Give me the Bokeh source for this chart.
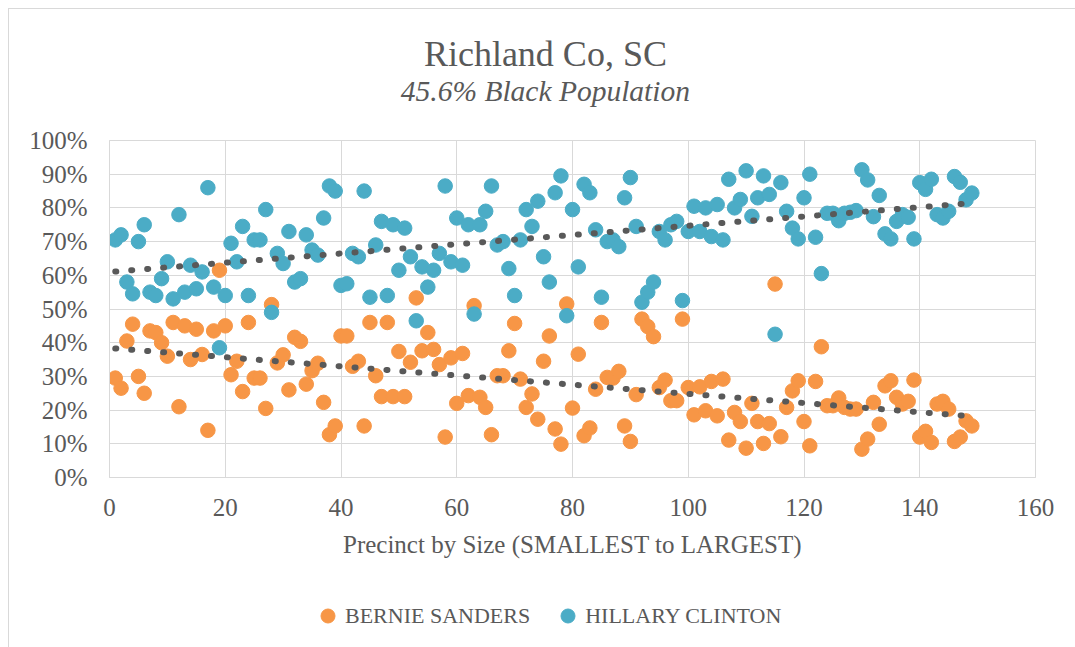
import numpy as np
from bokeh.plotting import figure
from bokeh.layouts import column
from bokeh.models import (ColumnDataSource, Legend, LegendItem, Label,
                          NumeralTickFormatter, FixedTicker, Range1d)
from bokeh.embed import file_html
from bokeh.resources import INLINE

# ---------------- data ----------------
title_text = "Richland Co, SC"
subtitle_text = "45.6% Black Population"
x_label = "Precinct by Size (SMALLEST to LARGEST)"
series_names = ["BERNIE SANDERS", "HILLARY CLINTON"]

precinct = list(range(1, 150))

clinton = [
    70.5, 72, 58, 54.5, 70, 75, 55, 54, 59, 64,
    53, 78, 55, 63, 56, 61, 86, 56.5, 38.5, 54,
    69.5, 64, 74.5, 54, 70.5, 70.5, 79.5, 49, 66.5, 63.5,
    73, 58, 59, 72, 67.5, 66, 77, 86.5, 85, 57,
    57.5, 66.5, 65.5, 85, 53.5, 69, 76, 54, 75, 61.5,
    74, 65.5, 46.5, 62.5, 56.5, 61.5, 66.5, 86.5, 64, 77,
    63, 75, 48.5, 75, 79, 86.5, 69, 70, 62, 54,
    70.5, 79.5, 74.5, 82, 65.5, 58, 84.5, 89.5, 48, 79.5,
    62.5, 87, 84.5, 73.5, 53.5, 70, 70.5, 68.5, 83, 89,
    74.5, 52, 55, 58, 73, 70.5, 75, 76, 52.5, 73,
    80.5, 73, 80, 71.5, 81, 70.5, 88.5, 80, 82.5, 91,
    77.5, 83, 89.5, 84, 42.5, 87.5, 79, 74, 70.8, 83,
    90, 71.3, 60.5, 78.4, 78.4, 76.2, 78.4, 78.7, 79.2, 91.3,
    88.3, 77.4, 83.7, 72.3, 70.8, 76, 78, 77.2, 70.8, 87.5,
    85.5, 88.5, 78, 77, 79, 89.3, 87.6, 82.4, 84.4,
]

sanders = [
    29.5, 26.5, 40.5, 45.5, 30, 25, 43.5, 43, 40, 36,
    46, 21, 45, 35, 44, 36.5, 14, 43.5, 61.5, 45,
    30.5, 34.5, 25.5, 46, 29.5, 29.5, 20.5, 51.3, 34, 36.4,
    26, 41.6, 40.4, 27.7, 31.7, 33.9, 22.3, 12.7, 15.3, 42,
    42, 33, 34.5, 15.3, 46, 30.2, 24, 46, 24, 37.4,
    24, 34.2, 53.3, 37.6, 43, 38, 33.5, 12, 35.5, 22,
    36.8, 24.3, 51, 23.8, 20.8, 12.7, 30.2, 30.2, 37.6, 45.7,
    29.2, 20.8, 24.8, 17.3, 34.5, 42, 14.4, 9.9, 51.5, 20.6,
    36.6, 12.4, 14.7, 26.2, 46, 29.7, 29.5, 31.5, 15.3, 10.7,
    24.6, 47, 44.8, 41.8, 26.7, 28.9, 22.8, 22.8, 47, 26.7,
    18.6, 26.9, 19.8, 28.5, 18.3, 29.2, 11.1, 19.3, 16.6, 8.7,
    22, 16.6, 10.1, 16, 57.4, 12.1, 20.8, 25.7, 28.7, 16.6,
    9.4, 28.5, 38.8, 21.3, 21.3, 23.6, 20.8, 20.3, 20.3, 8.4,
    11.4, 22.3, 15.8, 27.2, 28.7, 23.8, 21.8, 22.6, 28.9, 12,
    13.7, 10.4, 21.8, 22.6, 20.3, 10.7, 12, 16.8, 15.3,
]

x_ticks = [0, 20, 40, 60, 80, 100, 120, 140, 160]
y_ticks = [0, 0.1, 0.2, 0.3, 0.4, 0.5, 0.6, 0.7, 0.8, 0.9, 1.0]

# ---------------- styling ----------------
FONT = "Liberation Serif"
TXT = "#595959"
GRID = "#d9d9d9"
ORANGE = "#F79646"
BLUE = "#4BACC6"
TREND = "#595959"
MARKER = 14.5
W = 1066

x = np.array(precinct, dtype=float)
c = np.array(clinton) / 100.0
s = np.array(sanders) / 100.0

# linear trendlines (least squares, as Excel's linear trendline)
def trend(xv, yv):
    m, b = np.polyfit(xv, yv, 1)
    xs = np.array([xv.min(), xv.max()])
    return xs, m * xs + b

tcx, tcy = trend(x, c)
tsx, tsy = trend(x, s)


def strip(height):
    f = figure(frame_width=W, frame_height=height, output_backend="svg",
               toolbar_location=None, x_range=Range1d(0, W), y_range=Range1d(0, height),
               min_border_left=0, min_border_right=0, min_border_top=0,
               min_border_bottom=0, x_axis_type=None, y_axis_type=None,
               background_fill_color="white", border_fill_color="white")
    f.outline_line_color = None
    f.grid.visible = False
    return f

# ---------------- header (title + subtitle) ----------------
head = strip(116)
head.styles = {"border-top": "1px solid #d9d9d9", "border-left": "1px solid #d9d9d9"}
head.add_layout(Label(x=435.5, y=71.5, text=title_text, text_font=FONT,
                      text_font_size="36px", text_color=TXT, text_align="center",
                      text_baseline="alphabetic"))
head.add_layout(Label(x=435.5, y=35, text=subtitle_text, text_font=FONT,
                      text_font_size="29.5px", text_font_style="italic",
                      text_color=TXT, text_align="center", text_baseline="alphabetic"))

# ---------------- main chart ----------------
p = figure(frame_width=925, frame_height=337, output_backend="svg", toolbar_location=None,
           x_range=Range1d(0, 160), y_range=Range1d(0, 1),
           min_border_left=100, min_border_right=41,
           min_border_top=15, min_border_bottom=103,
           background_fill_color="white", border_fill_color="white")
p.styles = {"border-left": "1px solid #d9d9d9"}

p.outline_line_color = GRID
p.xgrid.grid_line_color = GRID
p.ygrid.grid_line_color = GRID
p.xgrid.ticker = FixedTicker(ticks=x_ticks)
p.ygrid.ticker = FixedTicker(ticks=y_ticks)

p.xaxis.ticker = FixedTicker(ticks=x_ticks)
p.yaxis.ticker = FixedTicker(ticks=y_ticks)
p.yaxis.formatter = NumeralTickFormatter(format="0%")
for ax in (p.xaxis, p.yaxis):
    ax.axis_line_color = GRID
    ax.major_tick_line_color = None
    ax.minor_tick_line_color = None
    ax.major_tick_out = 0
    ax.major_tick_in = 0
    ax.major_label_text_font = FONT
    ax.major_label_text_font_size = "25px"
    ax.major_label_text_color = TXT
p.xaxis.major_label_standoff = 21
p.yaxis.major_label_standoff = 22
p.xaxis.axis_label = x_label
p.xaxis.axis_label_text_font = FONT
p.xaxis.axis_label_text_font_style = "normal"
p.xaxis.axis_label_text_font_size = "25px"
p.xaxis.axis_label_text_color = TXT
p.xaxis.axis_label_standoff = 12

src_s = ColumnDataSource(dict(x=x, y=s))
src_c = ColumnDataSource(dict(x=x, y=c))
p.scatter("x", "y", source=src_s, size=MARKER, fill_color=ORANGE, line_color=ORANGE)
p.scatter("x", "y", source=src_c, size=MARKER, fill_color=BLUE, line_color=BLUE)

p.line(tcx, tcy, line_color=TREND, line_width=6, line_dash="1 15", line_cap="round")
p.line(tsx, tsy, line_color=TREND, line_width=6, line_dash="1 15", line_cap="round")

# ---------------- legend strip (below the chart) ----------------
leg = strip(67)
leg.styles = {"border-left": "1px solid #d9d9d9"}
lr_s = leg.scatter(x=[np.nan], y=[np.nan], size=MARKER, fill_color=ORANGE, line_color=ORANGE)
lr_c = leg.scatter(x=[np.nan], y=[np.nan], size=MARKER, fill_color=BLUE, line_color=BLUE)

legend = Legend(items=[LegendItem(label=series_names[0], renderers=[lr_s]),
                       LegendItem(label=series_names[1], renderers=[lr_c])],
                orientation="horizontal", location=(301, 14),
                glyph_width=35, glyph_height=35, label_standoff=0, spacing=20,
                padding=0, margin=0, border_line_color=None,
                background_fill_alpha=0,
                label_text_font=FONT, label_text_font_size="22px",
                label_text_color=TXT)
leg.add_layout(legend)

layout = column(head, p, leg, spacing=0)
layout.styles = {"margin-left": "8px", "margin-top": "8px"}

open("out.html", "w").write(file_html(layout, INLINE))
